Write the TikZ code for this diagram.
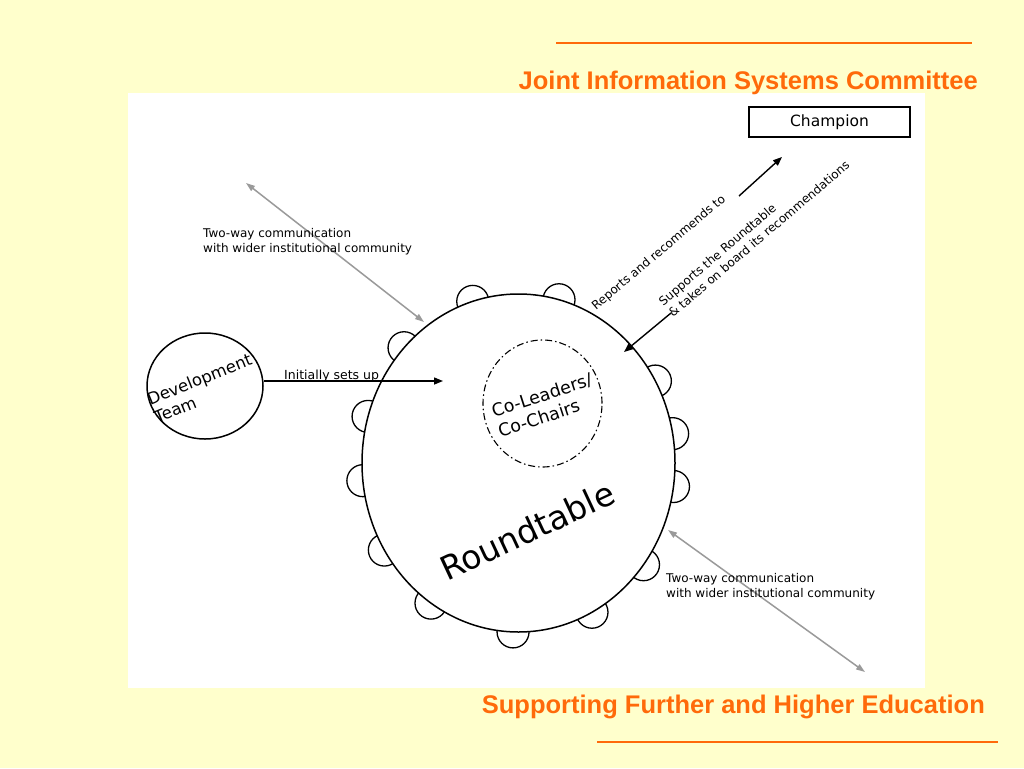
\documentclass[tikz,border=0pt]{standalone}
\usepackage{fontspec}
\setmainfont{DejaVu Sans}
\newfontfamily\arialfont{Liberation Sans}
\usetikzlibrary{shapes.geometric,arrows.meta}
\definecolor{bgyellow}{HTML}{FFFFCC}
\definecolor{jorange}{HTML}{FF6A0A}
\definecolor{arrgray}{HTML}{9A9A9A}
\begin{document}
\begin{tikzpicture}[x=1pt,y=-1pt,
  every node/.style={inner sep=0pt},
  lobe/.style={draw=black,fill=white,line width=1.3pt},
  bigshape/.style={draw=black,fill=white,ellipse,line width=1.5pt},
  blackarrow/.style={draw=black,line width=1.4pt,-{Triangle[length=9pt,width=7pt]}},
  grayarrow/.style={draw=arrgray,line width=1.5pt,{Triangle[length=9pt,width=6pt]}-{Triangle[length=9pt,width=6pt]}},
  smalltext/.style={font=\fontsize{12}{15}\selectfont,align=left},
  titletext/.style={font=\arialfont\bfseries\fontsize{25.5}{30}\selectfont,text=jorange},
  orangeline/.style={draw=jorange,line width=1.3pt}
]
\path[use as bounding box, fill=bgyellow] (0,0) rectangle (1024,768);
\fill[white] (128,93) rectangle (925,688);

% titles
\node[titletext, anchor=base east] (ttl) at (978,89) {Joint Information Systems Committee};
\node[titletext, anchor=base east] (sub) at (985,713) {Supporting Further and Higher Education};
\coordinate (tl1) at (556,43);
\coordinate (tl2) at (972,43);
\coordinate (bl1) at (597,742);
\coordinate (bl2) at (998,742);
\draw[orangeline] (tl1) -- (tl2);
\draw[orangeline] (bl1) -- (bl2);

% chairs round the table
\foreach \t in {107,75,137,164,186,211,236,268,298,323,352,10,29}
  \draw[lobe] ({518.5+156.5*cos(\t)},{463-169*sin(\t)}) circle[radius=16pt];

% roundtable
\node[bigshape, minimum width=313pt, minimum height=338pt] (rt) at (518.5,463) {};
\node[draw=black, ellipse, dash pattern=on 7pt off 3pt on 1.5pt off 3pt, line width=1.1pt, minimum width=119pt, minimum height=127pt] (cl) at (542.5,403.5) {};
\node[font=\fontsize{17.5}{21}\selectfont, align=left, rotate=18] (cltxt) at (545,405) {Co-Leaders/\\Co-Chairs};
\node[font=\fontsize{33}{36}\selectfont, rotate=25] (rttxt) at (527,531) {Roundtable};

% development team
\node[bigshape, minimum width=116pt, minimum height=106pt] (dt) at (205,386) {};
\node[font=\fontsize{16.5}{19}\selectfont, align=left, rotate=22] (dttxt) at (203,388) {Development\\Team};

% champion
\node[draw=black, line width=1.3pt, minimum width=161pt, minimum height=30pt, font=\fontsize{15.5}{18}\selectfont] (ch) at (829.5,122) {Champion};

% initially sets up
\coordinate (su) at (443,381);
\draw[blackarrow] (dt.east |- su) -- (su);
\node[smalltext, font=\fontsize{12.5}{15}\selectfont, anchor=base west] (sutxt) at (284,379.5) {Initially sets up};

% reports and recommends
\coordinate (r1) at (739,196);
\coordinate (r2) at (782,157);
\draw[blackarrow] (r1) -- (r2);
\node[smalltext, rotate=40.3] (reptxt) at (659,253) {Reports and recommends to};

% supports
\coordinate (s1) at (671,313);
\coordinate (s2) at (624,352);
\draw[blackarrow] (s1) -- (s2);
\node[smalltext, rotate=40.5] (suptxt) at (754,233) {Supports the Roundtable\\\& takes on board its recommendations};

% two-way communication arrows
\coordinate (g1) at (246,183);
\coordinate (g2) at (424,322);
\draw[grayarrow] (g1) -- (g2);
\node[smalltext, anchor=west] (gtxt1) at (203,241.5) {Two-way communication\\with wider institutional community};
\coordinate (h1) at (668,530);
\coordinate (h2) at (865,672);
\draw[grayarrow] (h1) -- (h2);
\node[smalltext, anchor=west] (gtxt2) at (666,586.5) {Two-way communication\\with wider institutional community};
\end{tikzpicture}
\end{document}
